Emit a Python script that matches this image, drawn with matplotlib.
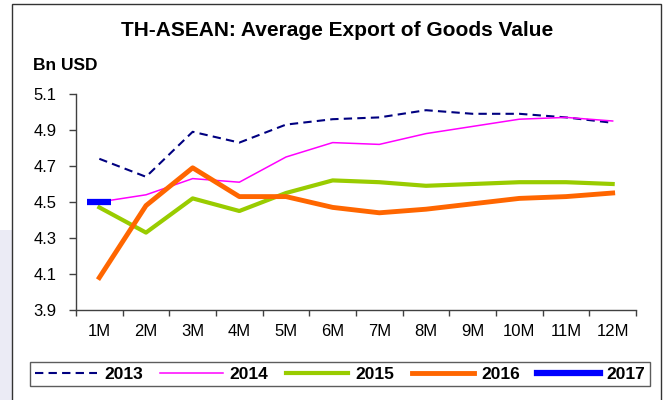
import matplotlib
matplotlib.use('Agg')
import matplotlib.pyplot as plt
from matplotlib.patches import Rectangle

months = ['1M', '2M', '3M', '4M', '5M', '6M', '7M', '8M', '9M', '10M', '11M', '12M']
y2013 = [4.74, 4.64, 4.89, 4.83, 4.93, 4.96, 4.97, 5.01, 4.99, 4.99, 4.97, 4.94]
y2014 = [4.50, 4.54, 4.63, 4.61, 4.75, 4.83, 4.82, 4.88, 4.92, 4.96, 4.97, 4.95]
y2015 = [4.47, 4.33, 4.52, 4.45, 4.55, 4.62, 4.61, 4.59, 4.60, 4.61, 4.61, 4.60]
y2016 = [4.08, 4.48, 4.69, 4.53, 4.53, 4.47, 4.44, 4.46, 4.49, 4.52, 4.53, 4.55]
y2017 = [4.50]
yticks = [3.9, 4.1, 4.3, 4.5, 4.7, 4.9, 5.1]

plt.rcParams['font.family'] = ['Liberation Sans', 'DejaVu Sans']

fig = plt.figure(figsize=(6.67, 4.0), dpi=100)
fig.patch.set_facecolor('white')

# faint shading at the lower left edge and the outer frame
fig.patches.append(Rectangle((0, 0), 12 / 667, 170 / 400, transform=fig.transFigure,
                             facecolor='#ebebf5', edgecolor='none', zorder=0))
fig.patches.append(Rectangle((12 / 667, -0.02), 649 / 667, 1.02 - 4 / 400,
                             transform=fig.transFigure, facecolor='none',
                             edgecolor='#333333', linewidth=1.0, zorder=1))

ax = fig.add_axes([76 / 667, 1 - 310 / 400, 560 / 667, 216 / 400])
x = list(range(1, len(months) + 1))

ax.plot(x, y2013, color='#000080', linewidth=1.5, dashes=(4, 2.5), label='2013')
ax.plot(x, y2014, color='#ff00ff', linewidth=1.1, label='2014')
ax.plot(x, y2015, color='#99cc00', linewidth=3.0, label='2015')
ax.plot(x, y2016, color='#ff6600', linewidth=3.5, label='2016')
ax.plot(x[:len(y2017)], y2017, color='#0000ff', linewidth=4.5, marker='_',
        markersize=17, markeredgewidth=4.5, label='2017')

ax.set_xlim(0.5, 12.5)
ax.set_ylim(3.9, 5.1)
ax.set_yticks(yticks)
ax.set_yticklabels([f'{v:.1f}' for v in yticks], fontsize=12)
ax.set_xticks([i + 0.5 for i in range(0, 13)])
ax.set_xticklabels([])
ax.set_xticks(x, minor=True)
ax.set_xticklabels(months, minor=True, fontsize=12)
ax.tick_params(axis='x', which='major', direction='out', length=4, width=1, color='#404040')
ax.tick_params(axis='x', which='minor', length=0, pad=10)
ax.tick_params(axis='y', direction='out', length=5, width=1, color='#404040', pad=9)

for side in ['top', 'right']:
    ax.spines[side].set_visible(False)
for side in ['left', 'bottom']:
    ax.spines[side].set_color('#404040')
    ax.spines[side].set_linewidth(1.0)

fig.text(337 / 667, 1 - 31 / 400, 'TH-ASEAN: Average Export of Goods Value',
         ha='center', va='center', fontsize=15, fontweight='bold')
fig.text(33 / 667, 1 - 65 / 400, 'Bn USD', ha='left', va='center',
         fontsize=12.5, fontweight='bold')

leg = fig.legend(loc='center', bbox_to_anchor=(340 / 667, 1 - 374 / 400), ncol=5,
                 frameon=True, fancybox=False, handlelength=3.6, handletextpad=0.4,
                 columnspacing=1.0, borderpad=0.25, prop={'weight': 'bold', 'size': 12.5})
leg.get_frame().set_edgecolor('#333333')
leg.get_frame().set_linewidth(1.0)
for h in leg.legend_handles:
    h.set_marker('')

fig.savefig('out.png', dpi=100)
